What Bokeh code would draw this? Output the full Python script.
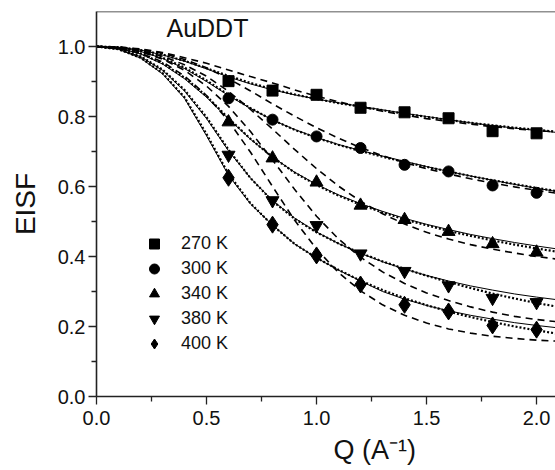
from bokeh.plotting import figure
from bokeh.models import Range1d, Label, FixedTicker, Legend, LegendItem, Span, PrintfTickFormatter, Title
from bokeh.embed import file_html
from bokeh.resources import INLINE

# measured data
q_data = [0.6, 0.8, 1.0, 1.2, 1.4, 1.6, 1.8, 2.0]
eisf_270 = [0.901, 0.874, 0.862, 0.825, 0.812, 0.795, 0.758, 0.752]
eisf_300 = [0.852, 0.791, 0.743, 0.710, 0.662, 0.643, 0.603, 0.582]
eisf_340 = [0.784, 0.681, 0.612, 0.546, 0.505, 0.471, 0.436, 0.412]
eisf_380 = [0.690, 0.560, 0.489, 0.408, 0.358, 0.317, 0.281, 0.269]
eisf_400 = [0.625, 0.491, 0.403, 0.320, 0.262, 0.243, 0.203, 0.191]

# fit curves (solid, dotted, dashed)
q_fit = [0.0, 0.1, 0.2, 0.3, 0.4, 0.5, 0.6, 0.7, 0.8, 0.9, 1.0,
         1.1, 1.2, 1.3, 1.4, 1.5, 1.6, 1.7, 1.8, 1.9, 2.0, 2.1]
solid_270 = [1.000, 0.998, 0.990, 0.976, 0.958, 0.936, 0.913, 0.893, 0.876, 0.862, 0.850,
             0.839, 0.829, 0.819, 0.809, 0.800, 0.791, 0.782, 0.774, 0.767, 0.760, 0.754]
dot_270 = [1.000, 0.998, 0.990, 0.977, 0.959, 0.938, 0.916, 0.896, 0.878, 0.863, 0.850,
           0.838, 0.828, 0.818, 0.808, 0.799, 0.790, 0.782, 0.775, 0.768, 0.762, 0.756]
dash_270 = [1.000, 0.999, 0.993, 0.983, 0.968, 0.952, 0.933, 0.914, 0.896, 0.876, 0.858,
            0.842, 0.828, 0.815, 0.804, 0.794, 0.786, 0.778, 0.771, 0.765, 0.760, 0.755]
solid_300 = [1.000, 0.997, 0.986, 0.966, 0.937, 0.900, 0.860, 0.823, 0.790, 0.763, 0.740,
             0.720, 0.703, 0.687, 0.672, 0.657, 0.643, 0.630, 0.618, 0.606, 0.595, 0.585]
dot_300 = [1.000, 0.997, 0.987, 0.968, 0.940, 0.903, 0.862, 0.824, 0.790, 0.762, 0.739,
           0.719, 0.701, 0.685, 0.670, 0.656, 0.643, 0.630, 0.618, 0.607, 0.596, 0.586]
dash_300 = [1.000, 0.998, 0.992, 0.981, 0.963, 0.939, 0.908, 0.873, 0.836, 0.801, 0.768,
            0.738, 0.711, 0.688, 0.668, 0.651, 0.636, 0.622, 0.610, 0.599, 0.589, 0.580]
solid_340 = [1.000, 0.995, 0.979, 0.950, 0.908, 0.855, 0.793, 0.735, 0.684, 0.641, 0.606,
             0.576, 0.551, 0.529, 0.509, 0.492, 0.477, 0.463, 0.451, 0.440, 0.430, 0.421]
dot_340 = [1.000, 0.995, 0.980, 0.952, 0.911, 0.858, 0.795, 0.736, 0.684, 0.640, 0.604,
           0.574, 0.548, 0.526, 0.506, 0.489, 0.473, 0.459, 0.446, 0.434, 0.423, 0.413]
dash_340 = [1.000, 0.997, 0.988, 0.972, 0.948, 0.915, 0.872, 0.820, 0.764, 0.706, 0.651,
            0.601, 0.558, 0.522, 0.493, 0.469, 0.450, 0.434, 0.421, 0.410, 0.400, 0.392]
solid_380 = [1.000, 0.993, 0.971, 0.932, 0.873, 0.794, 0.702, 0.624, 0.560, 0.510, 0.470,
             0.437, 0.409, 0.385, 0.364, 0.346, 0.330, 0.316, 0.304, 0.293, 0.284, 0.276]
dot_380 = [1.000, 0.993, 0.972, 0.934, 0.876, 0.798, 0.705, 0.624, 0.558, 0.508, 0.469,
           0.437, 0.410, 0.386, 0.365, 0.345, 0.327, 0.310, 0.294, 0.280, 0.267, 0.256]
dash_380 = [1.000, 0.996, 0.985, 0.964, 0.932, 0.887, 0.829, 0.757, 0.676, 0.592, 0.515,
            0.450, 0.398, 0.356, 0.323, 0.296, 0.274, 0.256, 0.241, 0.229, 0.220, 0.213]
solid_400 = [1.000, 0.992, 0.967, 0.922, 0.852, 0.745, 0.632, 0.550, 0.490, 0.436, 0.396,
             0.361, 0.330, 0.300, 0.278, 0.260, 0.245, 0.232, 0.221, 0.211, 0.203, 0.196]
dot_400 = [1.000, 0.992, 0.968, 0.924, 0.855, 0.750, 0.636, 0.552, 0.489, 0.436, 0.396,
           0.362, 0.331, 0.304, 0.281, 0.261, 0.243, 0.227, 0.213, 0.200, 0.189, 0.179]
dash_400 = [1.000, 0.995, 0.981, 0.956, 0.916, 0.860, 0.787, 0.698, 0.600, 0.504, 0.421,
            0.354, 0.302, 0.262, 0.232, 0.210, 0.193, 0.181, 0.172, 0.166, 0.161, 0.158]

temps = ["270 K", "300 K", "340 K", "380 K", "400 K"]
x_ticks = [0.0, 0.5, 1.0, 1.5, 2.0]
x_minor = [0.25, 0.75, 1.25, 1.75]
y_ticks = [0.0, 0.2, 0.4, 0.6, 0.8, 1.0]
y_minor = [0.1, 0.3, 0.5, 0.7, 0.9]

FONT = "Liberation Sans"
INK = "#111111"

p = figure(width=555, height=470, output_backend="svg", toolbar_location=None,
           x_range=Range1d(0, 2.086), y_range=Range1d(0, 1.1),
           min_border_left=96, min_border_right=0, min_border_top=11, min_border_bottom=74)
p.outline_line_color = None
p.grid.visible = False
p.background_fill_color = "white"
p.border_fill_color = "white"

for ax, tk, mn in ((p.xaxis[0], x_ticks, x_minor), (p.yaxis[0], y_ticks, y_minor)):
    ax.ticker = FixedTicker(ticks=tk, minor_ticks=mn)
    ax.formatter = PrintfTickFormatter(format="%.1f")
    ax.axis_line_color = "#222222"
    ax.axis_line_width = 1.6
    ax.major_tick_line_color = "#222222"
    ax.minor_tick_line_color = "#222222"
    ax.major_tick_line_width = 1.3
    ax.minor_tick_line_width = 1.3
    ax.major_tick_in = 0
    ax.major_tick_out = 8
    ax.minor_tick_in = 0
    ax.minor_tick_out = 5
    ax.major_label_text_font = FONT
    ax.major_label_text_font_size = "20px"
    ax.major_label_text_color = INK
p.xaxis.major_label_standoff = 6
p.yaxis.major_label_standoff = 3

p.yaxis.axis_label = "EISF"
p.yaxis.axis_label_text_font = FONT
p.yaxis.axis_label_text_font_size = "28px"
p.yaxis.axis_label_text_font_style = "normal"
p.yaxis.axis_label_text_color = INK
p.yaxis.axis_label_standoff = 14

xlabel = Title(text="Q (A\u207b\u00b9)", align="left", offset=237, standoff=11,
               text_font=FONT, text_font_size="27px", text_font_style="normal",
               text_color=INK)
p.add_layout(xlabel, "below")

p.add_layout(Span(location=1.1, dimension="width", line_color="#222222", line_width=1.6))

curves = [(solid_270, dot_270, dash_270), (solid_300, dot_300, dash_300),
          (solid_340, dot_340, dash_340), (solid_380, dot_380, dash_380),
          (solid_400, dot_400, dash_400)]
for s, d, g in curves:
    p.line(q_fit, g, line_color="black", line_width=1.6, line_dash="7 5")
    p.line(q_fit, d, line_color="black", line_width=2.2, line_dash="2 2")
    p.line(q_fit, s, line_color="black", line_width=1.0)

series = [eisf_270, eisf_300, eisf_340, eisf_380, eisf_400]
markers = ["square", "circle", "triangle", "inverted_triangle", "diamond"]
sizes = [11, 11, 13, 13, 17]
items = []
for vals, m, sz, t in zip(series, markers, sizes, temps):
    r = p.scatter(q_data, vals, marker=m, size=sz, fill_color="black", line_color="black")
    items.append(LegendItem(label=t, renderers=[r]))

legend = Legend(items=items, location=(44, 40), glyph_width=28, glyph_height=25,
                label_height=20, spacing=0, padding=5, label_standoff=13,
                label_text_font=FONT, label_text_font_size="18px", label_text_color=INK,
                border_line_color=None, background_fill_alpha=0)
p.add_layout(legend)

p.add_layout(Label(x=0.318, y=1.012, text="AuDDT", text_font=FONT,
                   text_font_size="25px", text_color=INK))

open("out.html", "w").write(file_html(p, INLINE))
